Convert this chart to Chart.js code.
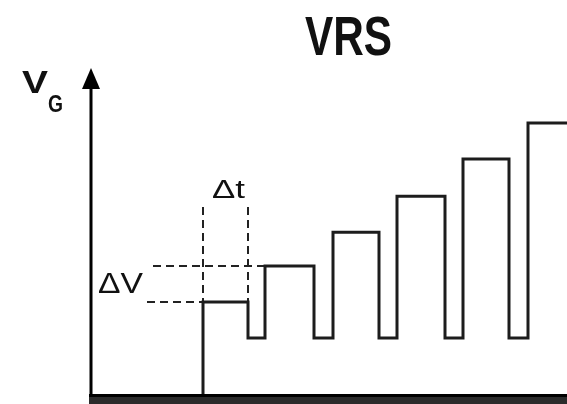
<!DOCTYPE html>
<html lang="en">
<head>
    <meta charset="UTF-8">
    <title>VRS</title>
    <script src="https://cdn.jsdelivr.net/npm/chart.js"></script>
    <style>
        html, body { margin: 0; padding: 0; background: #fff; }
        #wrap { width: 567px; height: 404px; }
    </style>
</head>
<body>
    <div id="wrap"><canvas id="vrsChart" width="567" height="404"></canvas></div>

    <script>
        // time (arbitrary units) of each edge of the gate voltage ramp
        const edgeTimes = [11.2, 11.2, 15.7, 17.4, 22.3, 24.2, 28.8, 30.6, 35.4, 37.2, 41.8, 43.7, 47.6];
        // level reached at each edge (ΔV = 1 unit)
        const edgeLevels = [0, 2.64, 1.64, 3.64, 1.64, 4.58, 1.64, 5.58, 1.64, 6.61, 1.64, 7.61, 7.61];

        // ΔV guide lines (dashed)
        const dvUpperX = [6.2, 17.4];
        const dvUpperY = [3.64, 3.64];
        const dvLowerX = [5.6, 11.2];
        const dvLowerY = [2.64, 2.64];
        // Δt guide lines (dashed)
        const dtLeftX = [11.2, 11.2];
        const dtRightX = [15.7, 15.7];
        const dtY = [5.28, 2.64];

        const xMax = 47.6;
        const yMax = 9.14;

        const pts = (xs, ys) => xs.map((x, i) => ({ x: x, y: ys[i] }));

        const dashed = { borderColor: '#222', borderWidth: 2, borderDash: [8, 5], pointRadius: 0, fill: false };

        function fitText(ctx, str, font, left, baseline, width) {
            ctx.save();
            ctx.font = font;
            const w = ctx.measureText(str).width;
            ctx.translate(left, baseline);
            ctx.scale(width / w, 1);
            ctx.fillText(str, 0, 0);
            ctx.restore();
        }

        const decorations = {
            id: 'decorations',
            afterDraw(chart) {
                const ctx = chart.ctx;
                const a = chart.chartArea;
                ctx.save();
                // x axis (thick dark band at bottom)
                ctx.fillStyle = '#2b2b2b';
                ctx.fillRect(a.left - 2, a.bottom - 2, chart.width - a.left + 2, chart.height - a.bottom + 2);
                ctx.fillStyle = '#000';
                ctx.fillRect(a.left - 2, a.bottom - 3, chart.width - a.left + 2, 3);
                // y axis with arrow
                ctx.fillRect(a.left - 1.5, a.top + 18, 3, a.bottom - a.top - 18);
                ctx.beginPath();
                ctx.moveTo(a.left, a.top);
                ctx.lineTo(a.left - 9, a.top + 21);
                ctx.lineTo(a.left + 9, a.top + 21);
                ctx.closePath();
                ctx.fill();

                ctx.fillStyle = '#111';
                ctx.textBaseline = 'alphabetic';
                fitText(ctx, 'VRS', 'bold 56px "Liberation Sans", Arial, sans-serif', 305, 55, 87);
                fitText(ctx, 'V', 'bold 32px "Liberation Sans", Arial, sans-serif', 22, 93, 26);
                fitText(ctx, 'G', 'bold 24px "Liberation Sans", Arial, sans-serif', 48, 112, 15);
                fitText(ctx, 'ΔV', '29px "Liberation Sans", Arial, sans-serif', 98, 293, 45);
                fitText(ctx, 'Δt', '25px "Liberation Sans", Arial, sans-serif', 212, 198, 33);
                ctx.restore();
            }
        };

        new Chart(document.getElementById('vrsChart'), {
            type: 'line',
            data: {
                datasets: [
                    {
                        label: 'VG',
                        data: pts(edgeTimes, edgeLevels),
                        stepped: 'before',
                        borderColor: '#1c1c1c',
                        borderWidth: 3,
                        pointRadius: 0,
                        fill: false
                    },
                    Object.assign({ label: 'dV upper', data: pts(dvUpperX, dvUpperY) }, dashed),
                    Object.assign({ label: 'dV lower', data: pts(dvLowerX, dvLowerY) }, dashed),
                    Object.assign({ label: 'dt left', data: pts(dtLeftX, dtY) }, dashed),
                    Object.assign({ label: 'dt right', data: pts(dtRightX, dtY) }, dashed)
                ]
            },
            options: {
                responsive: false,
                animation: false,
                layout: { padding: { left: 91, right: 0, top: 68, bottom: 7 } },
                scales: {
                    x: { type: 'linear', min: 0, max: xMax, display: false },
                    y: { type: 'linear', min: 0, max: yMax, display: false }
                },
                plugins: {
                    legend: { display: false },
                    tooltip: { enabled: false },
                    title: { display: false }
                }
            },
            plugins: [decorations]
        });
    </script>
</body>
</html>
